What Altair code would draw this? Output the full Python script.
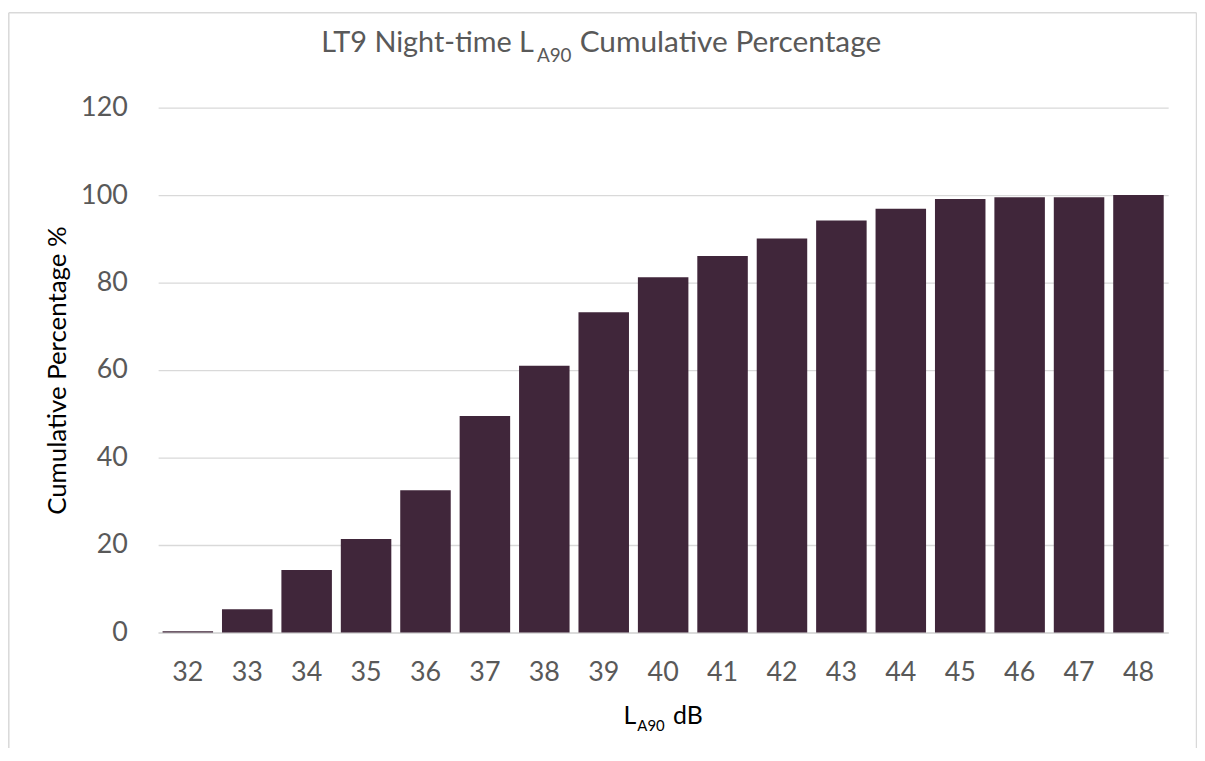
import altair as alt
import pandas as pd

# ---- data ----
levels = ["32", "33", "34", "35", "36", "37", "38", "39", "40", "41", "42", "43", "44", "45", "46", "47", "48"]
cum_pct = [0.3, 5.3, 14.3, 21.4, 32.5, 49.5, 61.0, 73.2, 81.2, 86.1, 90.1, 94.2, 96.9, 99.1, 99.5, 99.5, 100.0]
y_ticks = [0, 20, 40, 60, 80, 100, 120]

title_main = "LT9 Night-time L"
title_sub = "A90"
title_rest = "Cumulative Percentage"
xtitle_main = "L"
xtitle_sub = "A90"
xtitle_rest = "dB"
ytitle = "Cumulative Percentage %"

df = pd.DataFrame({"level": levels, "pct": cum_pct})
one = pd.DataFrame({"k": [0]})

FONT = "Lato"
GRAY = "#595959"
GRID = "#D9D9D9"
BAR = "#40263A"

W, H = 1016, 528
PAD_L, PAD_T, PAD_R, PAD_B = 151, 98, 29, 114

bars = alt.Chart(df).mark_bar(color=BAR).encode(
    x=alt.X("level:O", sort=levels,
            scale=alt.Scale(paddingInner=0.15, paddingOuter=0.075),
            axis=alt.Axis(title=None, labelAngle=0, labelFont=FONT, labelFontSize=27,
                          labelColor=GRAY, labelPadding=27, ticks=False,
                          domainColor=GRID, domainWidth=1.5)),
    y=alt.Y("pct:Q", scale=alt.Scale(domain=[0, 120], nice=False),
            axis=alt.Axis(values=y_ticks, title=ytitle, labelFont=FONT, labelFontSize=27,
                          labelColor=GRAY, labelPadding=31, ticks=False, domain=False,
                          gridColor=GRID, gridWidth=1.3,
                          titleFont=FONT, titleFontSize=26, titleFontWeight="normal",
                          titleColor="#000000", titleAngle=270, titleX=-101, titleY=264,
                          titleAlign="center", titleBaseline="middle")),
)


def txt(text, x, y, size, align, color):
    return alt.Chart(one).mark_text(
        align=align, baseline="alphabetic", font=FONT, fontSize=size, color=color
    ).encode(x=alt.value(x), y=alt.value(y), text=alt.value(text))


# chart title pieces (with subscript)
t1 = txt(title_main, 378, -56, 29, "right", GRAY)
t2 = txt(title_sub, 381, -46, 19, "left", GRAY)
t3 = txt(title_rest, 424, -56, 30, "left", GRAY)

# x-axis title pieces (with subscript)
x1 = txt(xtitle_main, 481, 620, 25, "right", "#000000")
x2 = txt(xtitle_sub, 482, 627, 15, "left", "#000000")
x3 = txt(xtitle_rest, 518, 620, 25, "left", "#000000")

# chart-area border (left, top, right)
bl = alt.Chart(one).mark_rule(color=GRID, strokeWidth=1.5).encode(
    x=alt.value(-150.2), y=alt.value(-95.5), y2=alt.value(650))
bt = alt.Chart(one).mark_rule(color=GRID, strokeWidth=1.5).encode(
    x=alt.value(-150.2), x2=alt.value(1044.5), y=alt.value(-95.5))
br = alt.Chart(one).mark_rule(color=GRID, strokeWidth=1.5).encode(
    x=alt.value(1044.5), y=alt.value(-95.5), y2=alt.value(650))

chart = alt.layer(bars, t1, t2, t3, x1, x2, x3, bl, bt, br).properties(
    width=W, height=H,
    autosize=alt.AutoSizeParams(type="none"),
    padding={"left": PAD_L, "top": PAD_T, "right": PAD_R, "bottom": PAD_B},
).configure(background="white").configure_view(stroke=None)

chart.save("out.html", embed_options={"renderer": "svg", "actions": False})
